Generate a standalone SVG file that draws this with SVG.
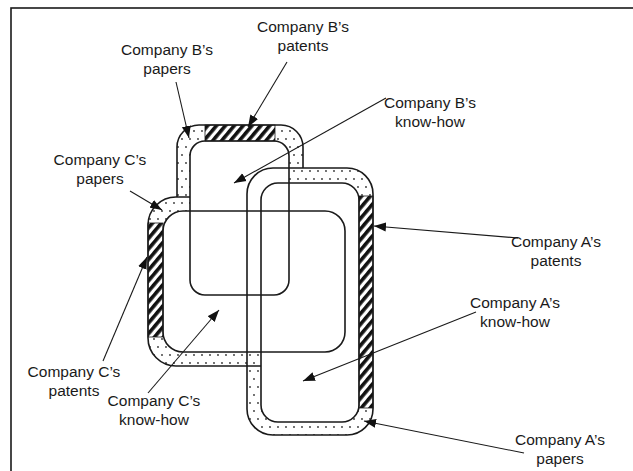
<svg xmlns="http://www.w3.org/2000/svg" width="633" height="471" viewBox="0 0 633 471">
<style>
.lbl{font-family:"Liberation Sans",Arial,sans-serif;font-size:15.5px;fill:#1a1a1a;text-anchor:middle}
.ol{fill:none;stroke:#1a1a1a;stroke-width:1.6}
.con{fill:none;stroke:#1a1a1a;stroke-width:1.1;marker-end:url(#ah)}
.hat{fill:url(#hatch);stroke:#1a1a1a;stroke-width:0.8}
</style>
<defs>
<pattern id="dots" patternUnits="userSpaceOnUse" width="16" height="16">
<rect width="16" height="16" fill="#fff"/>
<circle cx="2" cy="3" r="0.9" fill="#333"/><circle cx="10" cy="3" r="0.9" fill="#333"/>
<circle cx="6" cy="11" r="0.9" fill="#333"/><circle cx="14" cy="11" r="0.9" fill="#333"/>
</pattern>
<pattern id="hatch" patternUnits="userSpaceOnUse" width="6.8" height="10" patternTransform="rotate(40)">
<rect width="6.8" height="10" fill="#fff"/><rect width="3.6" height="10" fill="#111"/>
</pattern>
<marker id="ah" markerWidth="13" markerHeight="10" refX="12" refY="5" orient="auto" markerUnits="userSpaceOnUse">
<path d="M0,0.5 L12,5 L0,9.5 Z" fill="#111"/>
</marker>
<mask id="mB" maskUnits="userSpaceOnUse" x="0" y="0" width="633" height="471">
<rect width="633" height="471" fill="#fff"/>
<rect x="247" y="168" width="126" height="267" rx="26" fill="#000"/>
<rect x="148" y="197" width="208" height="169" rx="28" fill="#000"/>
</mask>
<mask id="mC" maskUnits="userSpaceOnUse" x="0" y="0" width="633" height="471">
<rect width="633" height="471" fill="#fff"/>
<rect x="261" y="183" width="98" height="239" rx="17" fill="#000"/>
<rect x="190" y="141" width="99" height="154" rx="15" fill="#000"/>
</mask>
</defs>
<rect width="633" height="471" fill="#fff"/>
<rect id="frame" x="11" y="8" width="640" height="480" fill="none" stroke="#1a1a1a" stroke-width="1.6"/>

<g id="fills">
<g fill="url(#dots)">
<rect x="247" y="168" width="126" height="267" rx="26"/>
<rect x="177" y="125" width="126" height="185" rx="22"/>
<rect x="148" y="197" width="208" height="169" rx="28"/>
</g>
<g fill="#fff">
<rect x="261" y="183" width="98" height="239" rx="17"/>
<rect x="190" y="141" width="99" height="154" rx="15"/>
<rect x="163" y="211" width="182" height="141" rx="20"/>
</g>
</g>

<g id="company-b">
<rect class="hat" x="205" y="125" width="70" height="16"/>
<rect class="ol" x="177" y="125" width="126" height="185" rx="22" mask="url(#mB)"/>
<rect class="ol" x="190" y="141" width="99" height="154" rx="15"/>
</g>

<g id="company-c">
<rect class="hat" x="148" y="223" width="15" height="114"/>
<rect class="ol" x="148" y="197" width="208" height="169" rx="28" mask="url(#mC)"/>
<rect class="ol" x="163" y="211" width="182" height="141" rx="20"/>
</g>

<g id="company-a">
<rect class="hat" x="359" y="196" width="14" height="212"/>
<rect class="ol" x="247" y="168" width="126" height="267" rx="26"/>
<rect class="ol" x="261" y="183" width="98" height="239" rx="17"/>
</g>

<g id="connectors">
<line class="con" x1="287" y1="62" x2="248" y2="127"/>
<line class="con" x1="176" y1="82" x2="189" y2="138"/>
<line class="con" x1="386" y1="98" x2="234" y2="183"/>
<line class="con" x1="130" y1="191" x2="162" y2="210"/>
<line class="con" x1="518" y1="238" x2="374" y2="226"/>
<line class="con" x1="476" y1="312" x2="303" y2="381"/>
<line class="con" x1="103" y1="361" x2="147" y2="257"/>
<line class="con" x1="148" y1="393" x2="219" y2="310"/>
<line class="con" x1="524" y1="453" x2="364" y2="421"/>
</g>

<g id="label-b-patents"><text class="lbl" x="303" y="32">Company B’s</text><text class="lbl" x="303" y="51">patents</text></g>
<g id="label-b-papers"><text class="lbl" x="167" y="55">Company B’s</text><text class="lbl" x="167" y="74">papers</text></g>
<g id="label-b-knowhow"><text class="lbl" x="430" y="108">Company B’s</text><text class="lbl" x="430" y="127">know-how</text></g>
<g id="label-c-papers"><text class="lbl" x="100" y="165">Company C’s</text><text class="lbl" x="100" y="184">papers</text></g>
<g id="label-a-patents"><text class="lbl" x="556" y="247">Company A’s</text><text class="lbl" x="556" y="266">patents</text></g>
<g id="label-a-knowhow"><text class="lbl" x="515" y="308">Company A’s</text><text class="lbl" x="515" y="327">know-how</text></g>
<g id="label-c-patents"><text class="lbl" x="74" y="377">Company C’s</text><text class="lbl" x="74" y="396">patents</text></g>
<g id="label-c-knowhow"><text class="lbl" x="154" y="406">Company C’s</text><text class="lbl" x="154" y="425">know-how</text></g>
<g id="label-a-papers"><text class="lbl" x="560" y="445">Company A’s</text><text class="lbl" x="560" y="464">papers</text></g>
</svg>
